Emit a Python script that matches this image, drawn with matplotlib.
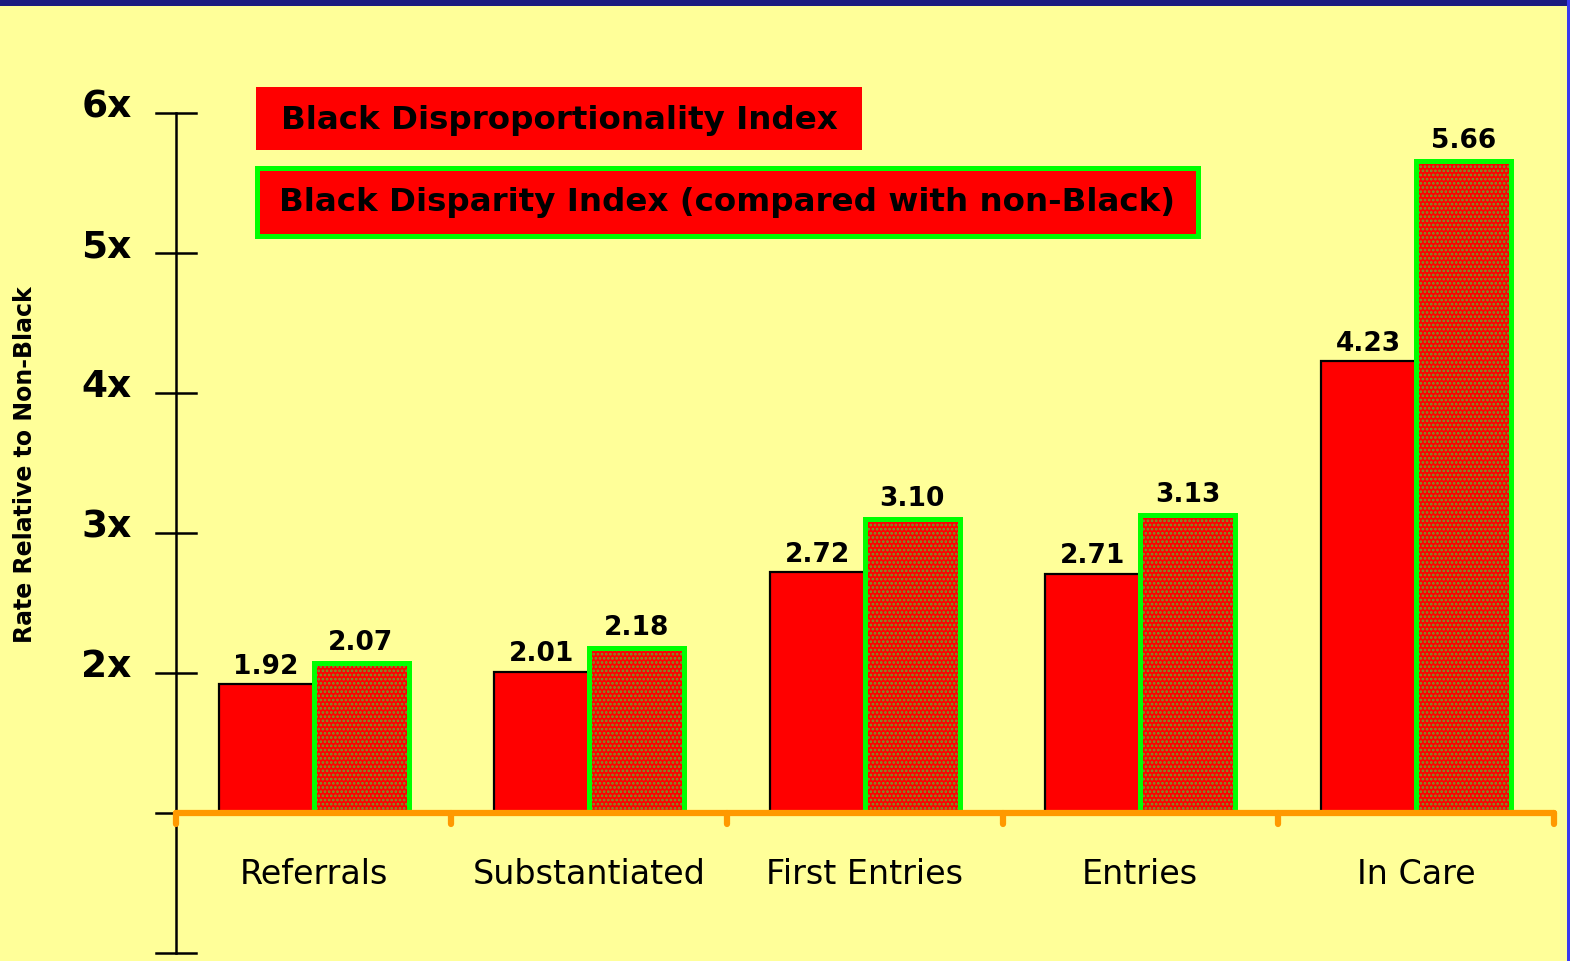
import matplotlib
matplotlib.use("Agg")
import matplotlib.pyplot as plt
from matplotlib.patches import Rectangle

categories = ["Referrals", "Substantiated", "First Entries", "Entries", "In Care"]
disproportionality = [1.92, 2.01, 2.72, 2.71, 4.23]
disparity = [2.07, 2.18, 3.10, 3.13, 5.66]
ytick_vals = [0, 1, 2, 3, 4, 5, 6]
ytick_labels = ["", "", "2x", "3x", "4x", "5x", "6x"]
legend_labels = ["Black Disproportionality Index",
                 "Black Disparity Index (compared with non-Black)"]
ylabel = "Rate Relative to Non-Black"

BG = "#FFFF99"
RED = "#FF0000"
GREEN = "#00FF00"
ORANGE = "#FF9900"
DOT = "#6FA030"
FONT = "DejaVu Sans"

plt.rcParams["hatch.linewidth"] = 1.3

W, H = 1570, 961
fig = plt.figure(figsize=(W / 100, H / 100), dpi=100, facecolor=BG)
ax = fig.add_axes([0, 0, 1, 1])
ax.set_facecolor(BG)
ax.axis("off")

# pixel mapping -> data limits
px_per_unit_y = 140.0
y0_pix = 953.0
ax.set_ylim(-(H - y0_pix) / px_per_unit_y, y0_pix / px_per_unit_y)
px_per_cat = 275.6
c0 = 313.5
ax.set_xlim(-c0 / px_per_cat, (W - c0) / px_per_cat)

base = 1.0
bw = 95 / px_per_cat
xs = list(range(len(categories)))

# bars
left_x = [x - bw / 2 for x in xs]
right_x = [x + bw / 2 for x in xs]
ax.bar(left_x, [v - base for v in disproportionality], bottom=base, width=bw,
       color=RED, edgecolor="black", linewidth=1.6, zorder=3)
ax.bar(right_x, [v - base for v in disparity], bottom=base, width=bw,
       color=RED, edgecolor="none", linewidth=0, zorder=3)
ax.bar(right_x, [v - base for v in disparity], bottom=base, width=bw,
       facecolor="none", edgecolor=DOT, hatch="....", linewidth=0, zorder=4)
ax.bar(right_x, [v - base for v in disparity], bottom=base, width=bw,
       facecolor="none", edgecolor=GREEN, linewidth=3.6, zorder=5)

# value labels
for x, v in zip(left_x, disproportionality):
    ax.text(x, v + 0.03, f"{v:.2f}", ha="center", va="bottom", fontsize=19,
            fontweight="bold", family=FONT, zorder=6)
for x, v in zip(right_x, disparity):
    ax.text(x, v + 0.05, f"{v:.2f}", ha="center", va="bottom", fontsize=19,
            fontweight="bold", family=FONT, zorder=6)

# y axis
yax_x = -0.5
tick_half = 20 / px_per_cat
ax.plot([yax_x, yax_x], [min(ytick_vals), max(ytick_vals)], color="black", lw=1.8, zorder=2)
for v, lab in zip(ytick_vals, ytick_labels):
    ax.plot([yax_x - tick_half, yax_x + tick_half], [v, v], color="black", lw=1.8, zorder=2)
    if lab:
        ax.text(yax_x - 44 / px_per_cat, v + 0.04, lab, ha="right", va="center",
                fontsize=27, fontweight="bold", family=FONT)

# orange x axis
ax.plot([-0.5, len(categories) - 0.5], [base, base], color=ORANGE, lw=4.5,
        solid_capstyle="round", zorder=7)
for k in range(len(categories) + 1):
    ax.plot([k - 0.5, k - 0.5], [base, base - 11 / px_per_unit_y], color=ORANGE, lw=4.5,
            solid_capstyle="round", zorder=7)

# category labels
for x, c in zip(xs, categories):
    ax.text(x, base - 61 / px_per_unit_y, c, ha="center", va="center", fontsize=24,
            family=FONT)

# y label
fig.text(25 / W, 1 - 465 / H, ylabel, rotation=90, ha="center", va="center",
         fontsize=17, fontweight="bold", family=FONT)

# legend boxes
fig.patches.append(Rectangle((256 / W, 1 - 150 / H), 606 / W, 63 / H,
                             transform=fig.transFigure, facecolor=RED,
                             edgecolor="none", zorder=8))
fig.text(559 / W, 1 - 120 / H, legend_labels[0], ha="center", va="center",
         fontsize=23.4, fontweight="bold", family=FONT, zorder=9)
fig.patches.append(Rectangle((256.5 / W, 1 - 235.5 / H), 941 / W, 68 / H,
                             transform=fig.transFigure, facecolor=RED,
                             edgecolor=GREEN, linewidth=3.6, zorder=8))
fig.text(727 / W, 1 - 203 / H, legend_labels[1], ha="center", va="center",
         fontsize=23.4, fontweight="bold", family=FONT, zorder=9)

# frame decorations
fig.patches.append(Rectangle((0, 1 - 6 / H), 1, 6 / H, transform=fig.transFigure,
                             facecolor="#1C1C80", edgecolor="none", zorder=10))
fig.patches.append(Rectangle((1 - 3 / W, 0), 3 / W, 1, transform=fig.transFigure,
                             facecolor="#3A3AF0", edgecolor="none", zorder=10))

fig.savefig("out.png", dpi=100, facecolor=BG)
